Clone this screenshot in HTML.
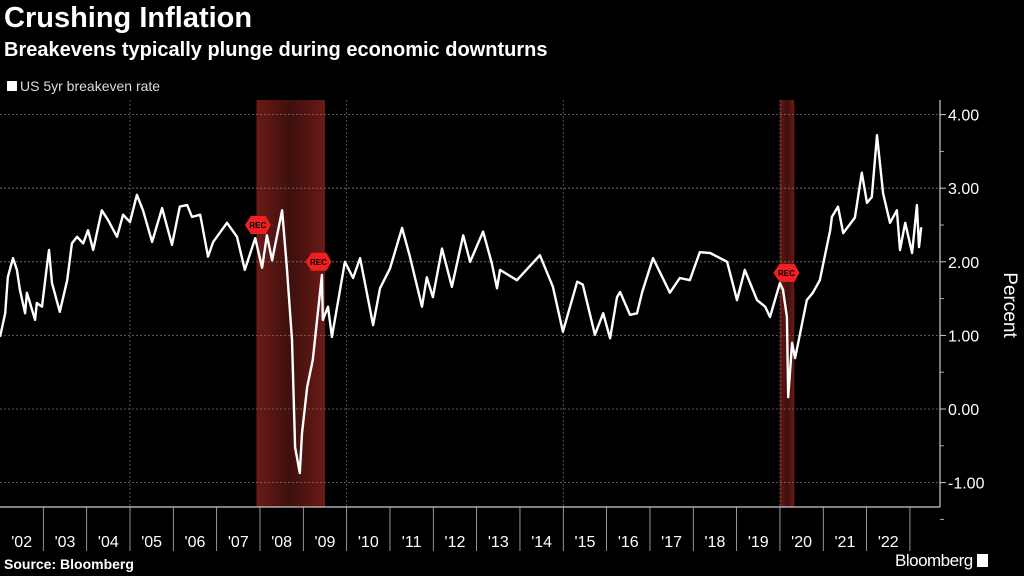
<!DOCTYPE html>
<html><head><meta charset="utf-8"><style>
html,body{margin:0;padding:0;background:#000;width:1024px;height:576px;overflow:hidden;font-family:"Liberation Sans","DejaVu Sans",sans-serif;color:#fff}
.t{position:absolute;white-space:nowrap}
</style></head><body>
<div class="t" style="left:4px;top:2px;font-size:29px;font-weight:bold;">Crushing Inflation</div>
<div class="t" style="left:4px;top:39px;font-size:20px;font-weight:bold;">Breakevens typically plunge during economic downturns</div>
<div class="t" style="left:7px;top:78px;font-size:14px;color:#ddd;"><span style="display:inline-block;width:10px;height:10px;background:#fff;margin-right:3px"></span>US 5yr breakeven rate</div>
<div class="t" style="left:4px;top:556px;font-size:14px;font-weight:bold;">Source: Bloomberg</div>
<div class="t" style="left:895px;top:551px;font-size:17px;letter-spacing:-0.5px;">Bloomberg <span style="display:inline-block;width:11px;height:13px;background:#fff;vertical-align:-1px"></span></div>
<svg id="chart" width="1024" height="576" style="position:absolute;left:0;top:0">
<defs><linearGradient id="rg" x1="0" x2="1"><stop offset="0" stop-color="#6a1a16"/><stop offset="0.5" stop-color="#3e100d"/><stop offset="1" stop-color="#6a1a16"/></linearGradient></defs>
<g id="bands"></g><g id="grid"></g><g id="axes"></g><g id="line"></g><g id="marks"></g>
<text transform="translate(1004,305) rotate(90)" fill="#fff" font-size="19" text-anchor="middle" font-family="Liberation Sans, sans-serif">Percent</text>
</svg>
<script>
const dates=[2002.00,2002.12,2002.18,2002.30,2002.39,2002.46,2002.58,2002.62,2002.81,2002.85,2002.97,2003.08,2003.13,2003.20,2003.38,2003.55,2003.66,2003.78,2003.92,2004.03,2004.15,2004.35,2004.49,2004.70,2004.84,2005.00,2005.16,2005.30,2005.51,2005.74,2005.97,2006.15,2006.32,2006.43,2006.62,2006.80,2006.92,2007.24,2007.47,2007.65,2007.89,2008.05,2008.16,2008.28,2008.51,2008.62,2008.74,2008.81,2008.92,2008.97,2009.09,2009.22,2009.43,2009.45,2009.57,2009.66,2009.96,2010.15,2010.31,2010.61,2010.77,2011.00,2011.28,2011.46,2011.74,2011.85,2011.99,2012.20,2012.43,2012.69,2012.85,2013.15,2013.35,2013.47,2013.54,2013.93,2014.46,2014.76,2014.99,2015.32,2015.45,2015.73,2015.92,2016.08,2016.24,2016.31,2016.54,2016.70,2016.82,2017.07,2017.46,2017.69,2017.92,2018.15,2018.39,2018.78,2019.01,2019.19,2019.47,2019.66,2019.77,2020.00,2020.07,2020.16,2020.19,2020.28,2020.35,2020.62,2020.76,2020.92,2021.16,2021.20,2021.34,2021.46,2021.73,2021.89,2022.01,2022.12,2022.24,2022.38,2022.54,2022.70,2022.77,2022.89,2023.05,2023.16,2023.21,2023.26];
const values=[0.98,1.30,1.79,2.05,1.89,1.62,1.30,1.58,1.21,1.44,1.39,1.93,2.16,1.71,1.32,1.75,2.25,2.34,2.25,2.43,2.16,2.70,2.57,2.34,2.64,2.54,2.91,2.70,2.27,2.73,2.23,2.75,2.77,2.61,2.64,2.07,2.27,2.53,2.34,1.89,2.32,1.92,2.36,2.02,2.70,1.93,0.94,-0.52,-0.87,-0.33,0.30,0.67,1.82,1.21,1.39,0.98,2.00,1.78,2.05,1.14,1.64,1.91,2.46,2.07,1.39,1.79,1.52,2.18,1.66,2.36,2.00,2.41,1.98,1.64,1.89,1.75,2.09,1.66,1.05,1.73,1.69,1.01,1.30,0.96,1.52,1.59,1.28,1.30,1.59,2.05,1.58,1.78,1.75,2.13,2.12,2.00,1.48,1.89,1.48,1.39,1.25,1.71,1.62,1.25,0.16,0.90,0.69,1.48,1.58,1.75,2.43,2.61,2.75,2.39,2.60,3.21,2.80,2.88,3.72,2.93,2.53,2.70,2.16,2.53,2.12,2.77,2.20,2.47];
const yTicks=[4,3,2,1,0,-1];
const yTickLabels=["4.00","3.00","2.00","1.00","0.00","-1.00"];
const xYears=[2002,2003,2004,2005,2006,2007,2008,2009,2010,2011,2012,2013,2014,2015,2016,2017,2018,2019,2020,2021,2022];
const xLabels=["'02","'03","'04","'05","'06","'07","'08","'09","'10","'11","'12","'13","'14","'15","'16","'17","'18","'19","'20","'21","'22"];
const recStart=[2007.92,2020.0];
const recEnd=[2009.5,2020.33];
const recLabel=[[2007.95,2.5],[2009.35,2.0],[2020.15,1.85]];

const NS="http://www.w3.org/2000/svg";
const X=t=>(t-2002)*43.33;
const Y=v=>409-v*73.6;
const TOP=100,BOT=507,RX=940;
function mk(tag,attrs,parent){const e=document.createElementNS(NS,tag);for(const k in attrs)e.setAttribute(k,attrs[k]);document.getElementById(parent).appendChild(e);return e;}
recStart.forEach((s,i)=>{const r=mk('rect',{x:X(s),y:TOP,width:X(recEnd[i])-X(s),height:BOT-TOP,fill:'url(#rg)'},'bands');

});
yTicks.forEach((v,i)=>{const l=mk('line',{x1:0,x2:RX,y1:Y(v),y2:Y(v),stroke:'#777','stroke-width':0.8,'stroke-dasharray':'2,2'},'grid');


mk('line',{x1:RX,x2:RX+6,y1:Y(v),y2:Y(v),stroke:'#ccc'},'axes');
mk('line',{x1:RX,x2:RX+4,y1:Y(v-0.5),y2:Y(v-0.5),stroke:'#aaa'},'axes');
const t=mk('text',{x:RX+8,y:Y(v)+6,fill:'#fff','font-size':16},'axes');t.textContent=yTickLabels[i];

});
[2005,2010,2015,2020].forEach(yr=>{const l=mk('line',{x1:X(yr),x2:X(yr),y1:TOP,y2:BOT,stroke:'#666','stroke-width':0.8,'stroke-dasharray':'2,2'},'grid');

});
mk('line',{x1:RX,x2:RX,y1:TOP,y2:BOT,stroke:'#ccc','stroke-width':1.2},'axes');
mk('line',{x1:0,x2:RX,y1:BOT,y2:BOT,stroke:'#ccc','stroke-width':1.2},'axes');
xYears.forEach((yr,i)=>{mk('line',{x1:X(yr+1),x2:X(yr+1),y1:BOT,y2:551,stroke:'#bbb','stroke-width':0.8},'axes');
const t=mk('text',{x:X(yr+0.5),y:547,fill:'#fff','font-size':16,'text-anchor':'middle'},'axes');t.textContent=xLabels[i];

});
let d='';dates.forEach((t,i)=>{d+=(i?'L':'M')+X(t).toFixed(1)+','+Y(values[i]).toFixed(1);});
const p=mk('path',{d:d,fill:'none',stroke:'#fff','stroke-width':2.4,'stroke-linejoin':'round'},'line');


recLabel.forEach(([t,v])=>{const cx=X(t),cy=Y(v);
const g=mk('polygon',{points:`${cx-13},${cy} ${cx-7},${cy-9} ${cx+8},${cy-9} ${cx+13},${cy} ${cx+8},${cy+9} ${cx-7},${cy+9}`,fill:'#f02020'},'marks');


const tx=mk('text',{x:cx,y:cy+3,fill:'#000','font-size':8,'font-weight':'bold','text-anchor':'middle'},'marks');tx.textContent='REC';

});
</script>
</body></html>
